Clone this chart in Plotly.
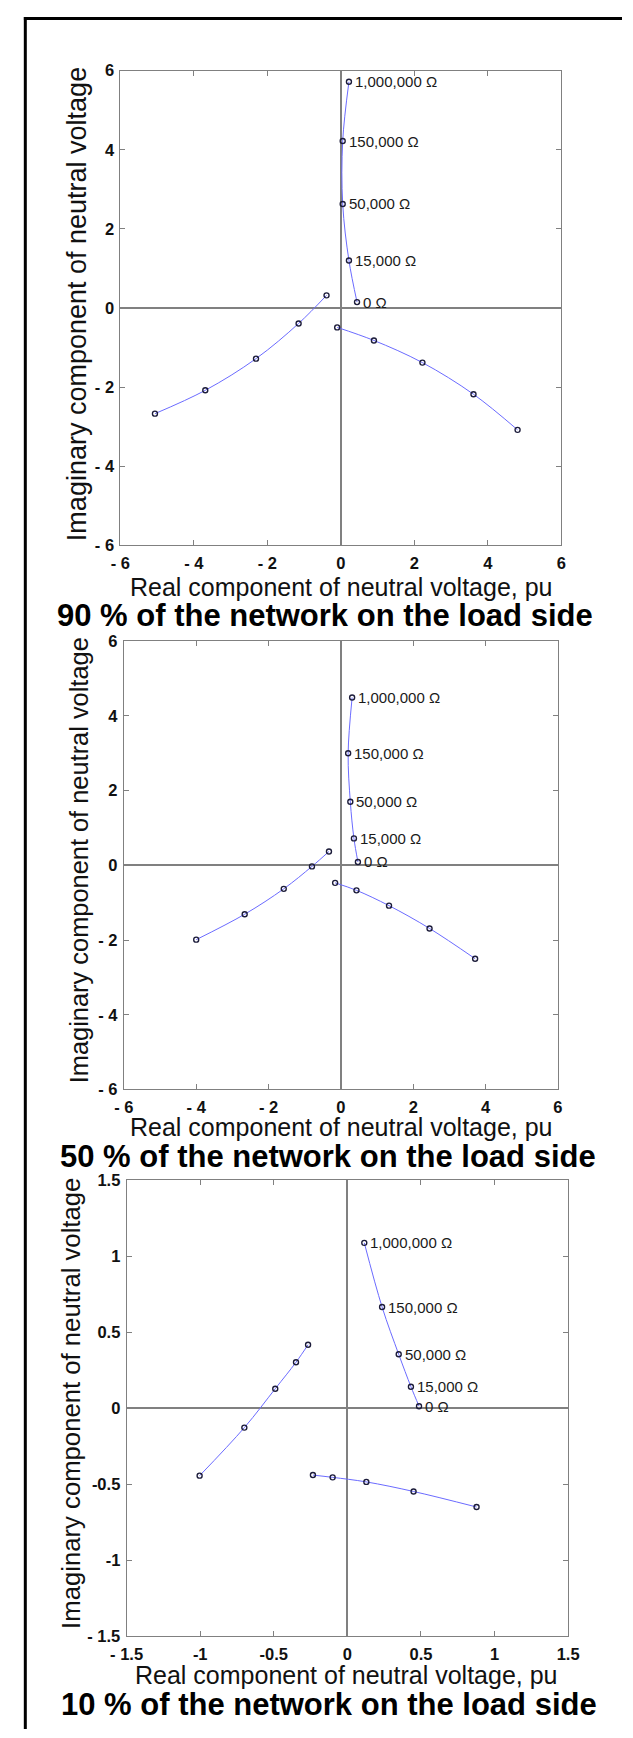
import plotly.graph_objects as go

# Neutral-point voltage loci for three positions of the network split
resistance_labels = ["0 Ω", "15,000 Ω", "50,000 Ω", "150,000 Ω", "1,000,000 Ω"]

# 90 % of the network on the load side
p90_res_re = [0.44, 0.22, 0.05, 0.05, 0.22]
p90_res_im = [0.15, 1.20, 2.63, 4.22, 5.72]
p90_left_re = [-5.06, -3.69, -2.31, -1.15, -0.39]
p90_left_im = [-2.67, -2.08, -1.28, -0.39, 0.32]
p90_right_re = [-0.10, 0.90, 2.22, 3.61, 4.81]
p90_right_im = [-0.49, -0.82, -1.38, -2.18, -3.08]

# 50 % of the network on the load side
p50_res_re = [0.47, 0.36, 0.26, 0.20, 0.31]
p50_res_im = [0.09, 0.72, 1.70, 3.00, 4.49]
p50_left_re = [-4.00, -2.66, -1.58, -0.80, -0.33]
p50_left_im = [-1.99, -1.31, -0.63, -0.03, 0.37]
p50_right_re = [-0.16, 0.43, 1.33, 2.45, 3.71]
p50_right_im = [-0.47, -0.67, -1.08, -1.69, -2.50]

# 10 % of the network on the load side
p10_res_re = [0.487, 0.432, 0.349, 0.236, 0.115]
p10_res_im = [0.013, 0.141, 0.354, 0.665, 1.087]
p10_left_re = [-1.004, -0.70, -0.49, -0.349, -0.267]
p10_left_im = [-0.444, -0.128, 0.128, 0.302, 0.417]
p10_right_re = [-0.234, -0.10, 0.129, 0.45, 0.878]
p10_right_im = [-0.44, -0.455, -0.485, -0.548, -0.65]

# Tick values / labels
big_ticks = [-6, -4, -2, 0, 2, 4, 6]
big_tick_text = ["- 6", "- 4", "- 2", "0", "2", "4", "6"]
small_ticks = [-1.5, -1, -0.5, 0, 0.5, 1, 1.5]
small_tick_text = ["- 1.5", "-1", "-0.5", "0", "0.5", "1", "1.5"]

panel_titles = [
    "90 % of the network on the load side",
    "50 % of the network on the load side",
    "10 % of the network on the load side",
]
x_title = "Real component of neutral voltage, pu"
y_title = "Imaginary component of neutral voltage"

W, H = 633, 1738
FONT = "Liberation Sans, Arial, Helvetica, sans-serif"
LINE_COLOR = "#6b6bff"
MARKER_COLOR = "#1c1c3a"
AXIS_GRAY = "#808080"

# pixel boxes of the three panels: (left, right, top, bottom)
boxes = [
    (108.2, 569.5, 62.3, 542.0),
    (111.8, 566.0, 638.7, 1091.8),
    (114.7, 576.6, 1183.3, 1644.3),
]

panels = [
    dict(res=(p90_res_re, p90_res_im), left=(p90_left_re, p90_left_im),
         right=(p90_right_re, p90_right_im), rng=[-6, 6],
         ticks=big_ticks, ticktext=big_tick_text),
    dict(res=(p50_res_re, p50_res_im), left=(p50_left_re, p50_left_im),
         right=(p50_right_re, p50_right_im), rng=[-6, 6],
         ticks=big_ticks, ticktext=big_tick_text),
    dict(res=(p10_res_re, p10_res_im), left=(p10_left_re, p10_left_im),
         right=(p10_right_re, p10_right_im), rng=[-1.5, 1.5],
         ticks=small_ticks, ticktext=small_tick_text),
]

fig = go.Figure()
annotations = []

layout_axes = {}
for i, (panel, box) in enumerate(zip(panels, boxes), start=1):
    xa = "x" if i == 1 else f"x{i}"
    ya = "y" if i == 1 else f"y{i}"
    l, r, t, b = box
    common = dict(
        range=panel["rng"], tickvals=panel["ticks"],
        ticktext=[f"<b>{s}</b>" for s in panel["ticktext"]],
        showgrid=False, zeroline=True, zerolinecolor=AXIS_GRAY, zerolinewidth=1.5,
        showline=True, linecolor=AXIS_GRAY, linewidth=1, mirror="ticks",
        ticks="inside", ticklen=5, tickcolor=AXIS_GRAY, tickwidth=1,
        tickfont=dict(family=FONT, size=16.5, color="#111111"),
        fixedrange=True,
    )
    layout_axes["xaxis" if i == 1 else f"xaxis{i}"] = dict(
        common, domain=[l / W, r / W], anchor=ya, ticklabelstandoff=3)
    layout_axes["yaxis" if i == 1 else f"yaxis{i}"] = dict(
        common, domain=[1 - b / H, 1 - t / H], anchor=xa, ticklabelstandoff=2)

    for key in ("left", "right", "res"):
        xs, ys = panel[key]
        fig.add_trace(go.Scatter(
            x=xs, y=ys, mode="lines+markers", xaxis=xa, yaxis=ya,
            line=dict(color=LINE_COLOR, width=1, shape="spline", smoothing=1),
            marker=dict(symbol="circle-open", size=5, color=MARKER_COLOR,
                        line=dict(width=1.4, color=MARKER_COLOR)),
            showlegend=False, hoverinfo="x+y",
        ))

    # resistance value next to each point of the resistance locus
    xs, ys = panel["res"]
    for xv, yv, lab in zip(xs, ys, resistance_labels):
        annotations.append(dict(
            text=lab, x=xv, y=yv, xref=xa, yref=ya, xanchor="left",
            yanchor="middle", xshift=4, showarrow=False,
            font=dict(family=FONT, size=15, color="#1a1a1a")))

x_label_pos = [(339.5, 584), (339.5, 1130), (345, 1683)]
y_label_pos = [(63, 298), (65, 860), (57, 1409)]
y_label_size = [27, 25.4, 25.7]
title_pos = [(322, 613), (325, 1160), (326, 1713)]
for k in range(3):
    xl, yl = x_label_pos[k]
    annotations.append(dict(
        text=x_title, x=xl / W, y=1 - yl / H, xref="paper", yref="paper",
        xanchor="center", yanchor="middle", showarrow=False,
        font=dict(family=FONT, size=25, color="#111111")))
    xl, yl = y_label_pos[k]
    annotations.append(dict(
        text=y_title, x=xl / W, y=1 - yl / H, xref="paper", yref="paper",
        xanchor="center", yanchor="middle", showarrow=False, textangle=-90,
        font=dict(family=FONT, size=y_label_size[k], color="#111111")))
    xl, yl = title_pos[k]
    annotations.append(dict(
        text=f"<b>{panel_titles[k]}</b>", x=xl / W, y=1 - yl / H,
        xref="paper", yref="paper", xanchor="center", yanchor="middle",
        showarrow=False, font=dict(family=FONT, size=31, color="#000000")))

# page frame (left and top edges)
shapes = [
    dict(type="line", xref="paper", yref="paper",
         x0=8.7 / W, x1=8.7 / W, y0=0, y1=1 - 8.0 / H,
         line=dict(color="#000000", width=3)),
    dict(type="line", xref="paper", yref="paper",
         x0=7.2 / W, x1=1, y0=1 - 9.5 / H, y1=1 - 9.5 / H,
         line=dict(color="#000000", width=3)),
]

fig.update_layout(
    width=W, height=H, margin=dict(l=0, r=0, t=0, b=0),
    paper_bgcolor="white", plot_bgcolor="white",
    annotations=annotations, shapes=shapes, **layout_axes,
)

fig.write_html("out.html")
